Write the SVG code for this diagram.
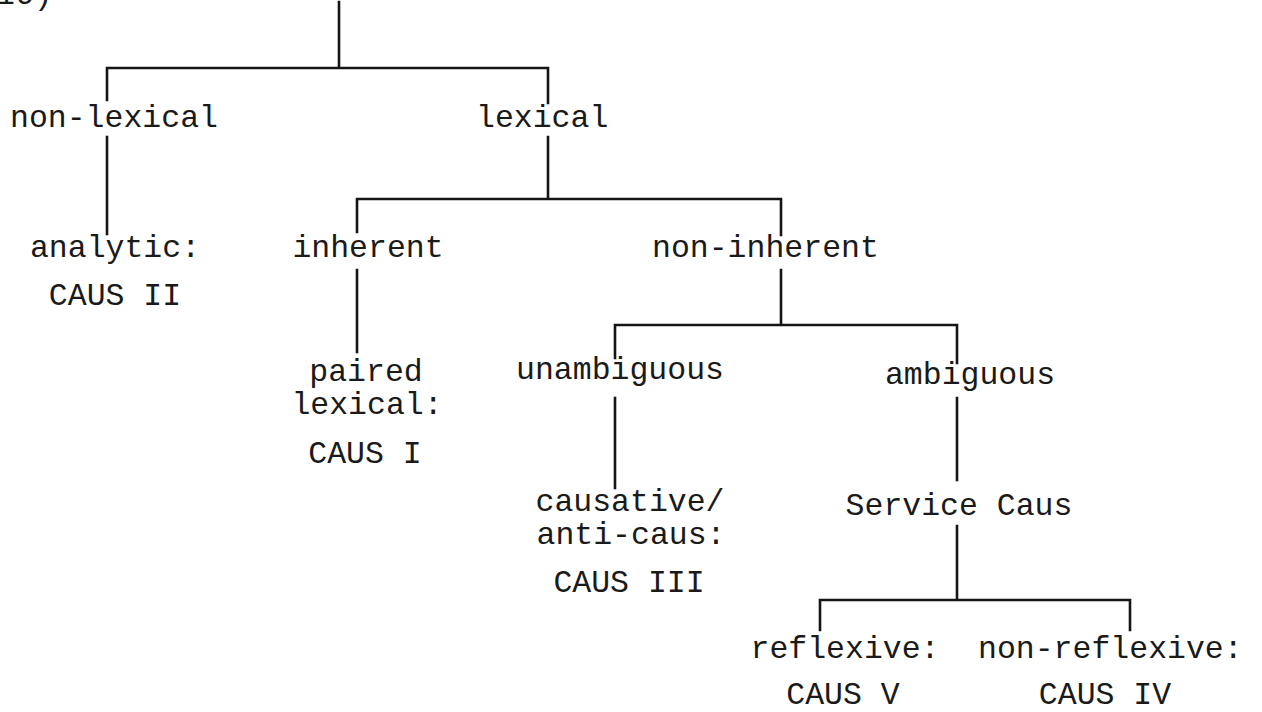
<svg xmlns="http://www.w3.org/2000/svg" width="1262" height="712" viewBox="0 0 1262 712">
<style>
.t{font-family:"Liberation Mono","Courier New",monospace;font-size:31.5px;fill:#1a1a1a}
.m{text-anchor:middle}
.c{stroke:#151515;stroke-width:2.6;fill:none;stroke-linecap:square}
</style>
<rect width="1262" height="712" fill="#ffffff"/>
<text class="t" x="-4" y="4">16)</text>
<g id="connectors" class="c">
<path d="M339 2V68M107 100V68H548V103"/>
<path d="M107 137V234"/>
<path d="M548 137V199M357 232V199H781V235"/>
<path d="M357 270V352"/>
<path d="M781 270V325M615 358V325H957V363"/>
<path d="M615 398V488"/>
<path d="M957 398V480"/>
<path d="M957 526V600M820 630V600H1130V630"/>
</g>
<g id="n-nonlexical"><text class="t" x="10" y="127">non-lexical</text></g>
<g id="n-lexical"><text class="t" x="476" y="127">lexical</text></g>
<g id="n-analytic"><text class="t m" x="115" y="257">analytic:</text><text class="t m" x="115" y="305">CAUS II</text></g>
<g id="n-inherent"><text class="t m" x="368" y="257">inherent</text></g>
<g id="n-noninherent"><text class="t" x="652" y="257">non-inherent</text></g>
<g id="n-paired"><text class="t m" x="366" y="381">paired</text><text class="t m" x="367" y="414">lexical:</text><text class="t m" x="365" y="463">CAUS I</text></g>
<g id="n-unambiguous"><text class="t m" x="620" y="379">unambiguous</text></g>
<g id="n-ambiguous"><text class="t m" x="970" y="384">ambiguous</text></g>
<g id="n-causative"><text class="t m" x="630" y="511">causative/</text><text class="t m" x="631" y="544">anti-caus:</text><text class="t m" x="629" y="592">CAUS III</text></g>
<g id="n-service"><text class="t m" x="959" y="515">Service Caus</text></g>
<g id="n-reflexive"><text class="t m" x="845" y="658">reflexive:</text><text class="t m" x="843" y="704">CAUS V</text></g>
<g id="n-nonreflexive"><text class="t" x="978" y="658">non-reflexive:</text><text class="t m" x="1105" y="704">CAUS IV</text></g>
</svg>
